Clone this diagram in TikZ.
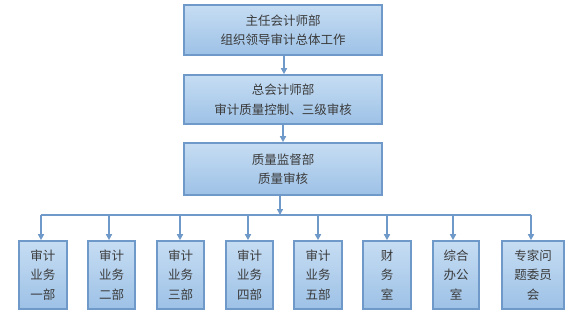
\documentclass[tikz,border=0pt]{standalone}
\usepackage{fontspec}
\setmainfont{Noto Sans CJK SC}
\usetikzlibrary{arrows.meta}
\definecolor{bord}{HTML}{6E99C9}
\definecolor{ftop}{HTML}{C6DDF3}
\definecolor{fbot}{HTML}{9DC1E6}
\definecolor{txt}{HTML}{3A3A3A}
\tikzset{
  box/.style={draw=bord, line width=1.6pt, top color=ftop, bottom color=fbot,
    text=txt, align=center, inner sep=0pt, font=\fontsize{12.5}{19.5}\selectfont},
  wide/.style={box, minimum width=198pt, minimum height=50pt},
  small/.style={box, minimum width=47pt, minimum height=68pt},
  conn/.style={draw=bord, line width=1.5pt},
  arr/.style={conn, -{Triangle[length=6pt,width=6pt]}}
}
\begin{document}
\begin{tikzpicture}[x=1pt,y=-1pt]
\useasboundingbox (0,0) rectangle (587,335);
\node[wide] (top) at (283,30) {主任会计师部\\组织领导审计总体工作};
\node[wide, minimum height=49pt] (mid) at (283,99.5) {总会计师部\\审计质量控制、三级审核};
\node[wide, minimum height=52pt] (qc) at (283,169) {质量监督部\\质量审核};
\node[small, minimum width=48pt] (b1) at (43,275) {审计\\业务\\一部};
\node[small] (b2) at (111.5,275) {审计\\业务\\二部};
\node[small] (b3) at (180.5,275) {审计\\业务\\三部};
\node[small] (b4) at (249.5,275) {审计\\业务\\四部};
\node[small, minimum width=48pt] (b5) at (318,275) {审计\\业务\\五部};
\node[small, minimum width=48pt] (b6) at (387,275) {财\\务\\室};
\node[small, minimum width=46pt] (b7) at (456,275) {综合\\办公\\室};
\node[small, minimum width=62pt] (b8) at (533,275) {专家问\\题委员\\会};
\coordinate (bus) at (280,215);
\coordinate (busL) at (41,215);
\coordinate (busR) at (531,215);
\draw[arr] (top.south -| 284,0) -- (mid.north -| 284,0);
\draw[arr] (mid.south -| 283,0) -- (qc.north -| 283,0);
\draw[arr] (qc.south -| bus) -- (bus);
\draw[conn] (busL) -- (busR);
\foreach \b/\x in {b1/41,b2/109,b3/180,b4/248,b5/318,b6/387,b7/453,b8/531}{
  \draw[arr] (\x,215) -- (\b.north -| \x,0);
}
\end{tikzpicture}
\end{document}
